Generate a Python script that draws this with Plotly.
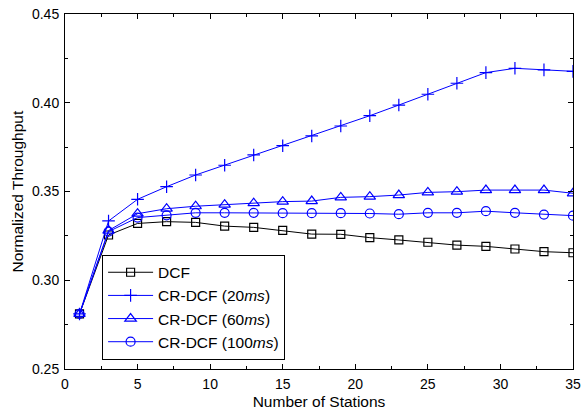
import plotly.graph_objects as go

stations = [1, 3, 5, 7, 9, 11, 13, 15, 17, 19, 21, 23, 25, 27, 29, 31, 33, 35]
dcf = [0.281, 0.3255, 0.332, 0.333, 0.3326, 0.3305, 0.3298, 0.3281, 0.326, 0.3259,
       0.324, 0.3227, 0.3214, 0.3198, 0.3191, 0.3176, 0.3161, 0.3155]
cr20 = [0.281, 0.3334, 0.3456, 0.3527, 0.3593, 0.3648, 0.3706, 0.3758, 0.3813, 0.3869,
        0.3927, 0.3987, 0.4048, 0.411, 0.417, 0.4194, 0.4185, 0.4177]
cr60 = [0.281, 0.328, 0.3375, 0.3403, 0.3417, 0.3426, 0.3434, 0.3443, 0.3446, 0.3467,
        0.3471, 0.348, 0.3495, 0.3499, 0.3508, 0.3508, 0.3508, 0.349]
cr100 = [0.281, 0.3274, 0.3353, 0.3366, 0.338, 0.338, 0.338, 0.3378, 0.3378, 0.3378,
         0.3376, 0.3372, 0.338, 0.338, 0.3389, 0.338, 0.337, 0.3364]

names = ["DCF", "CR-DCF (20<i>ms</i>)", "CR-DCF (60<i>ms</i>)", "CR-DCF (100<i>ms</i>)"]
series = [dcf, cr20, cr60, cr100]
colors = ["black", "#0000ff", "#0000ff", "#0000ff"]
symbols = ["square-open", "cross-thin", "triangle-up-open", "circle-open"]
sizes = [8, 9, 10, 9]

fig = go.Figure()
for n, s, c, sym, sz in zip(names, series, colors, symbols, sizes):
    fig.add_trace(go.Scatter(
        x=stations, y=s, name=n, mode="lines+markers",
        line=dict(color=c, width=1),
        marker=dict(symbol=sym, size=sz, color=c, line=dict(color=c, width=1.2)),
    ))

FONT = "Liberation Sans, Arial"
axis_common = dict(
    showgrid=False, zeroline=False, showline=True, linecolor="black", linewidth=1,
    mirror="ticks", ticks="inside", ticklen=5, tickwidth=1, tickcolor="black",
    tickfont=dict(family=FONT, size=14, color="black"), automargin=False,
)

fig.update_xaxes(
    range=[0, 35], tickmode="linear", tick0=0, dtick=5, ticklabelstandoff=2,
    minor=dict(ticks="inside", ticklen=3, dtick=2.5, tick0=0, tickcolor="black"),
    title=dict(text="Number of Stations", font=dict(family=FONT, size=15.5, color="black")),
    **axis_common,
)
fig.update_yaxes(
    range=[0.25, 0.45], tickmode="linear", tick0=0.25, dtick=0.05, tickformat=".2f",
    ticklabelstandoff=2,
    minor=dict(ticks="inside", ticklen=3, dtick=0.025, tick0=0.25, tickcolor="black"),
    **axis_common,
)

fig.add_annotation(
    text="Normalized Throughput", textangle=-90, showarrow=False,
    xref="paper", yref="paper", x=-(65 - 17) / 508, y=0.5,
    xanchor="center", yanchor="middle",
    font=dict(family=FONT, size=15.5, color="black"),
)

fig.update_layout(
    width=586, height=410,
    margin=dict(l=65, r=13, t=14, b=41),
    plot_bgcolor="white", paper_bgcolor="white",
    font=dict(family=FONT, color="black"),
    legend=dict(
        x=0.073, y=0.322, xanchor="left", yanchor="top",
        bordercolor="black", borderwidth=1, bgcolor="white",
        font=dict(family=FONT, size=15.5, color="black"),
        tracegroupgap=0, itemwidth=45,
    ),
    showlegend=True,
)

fig.write_html("out.html")
